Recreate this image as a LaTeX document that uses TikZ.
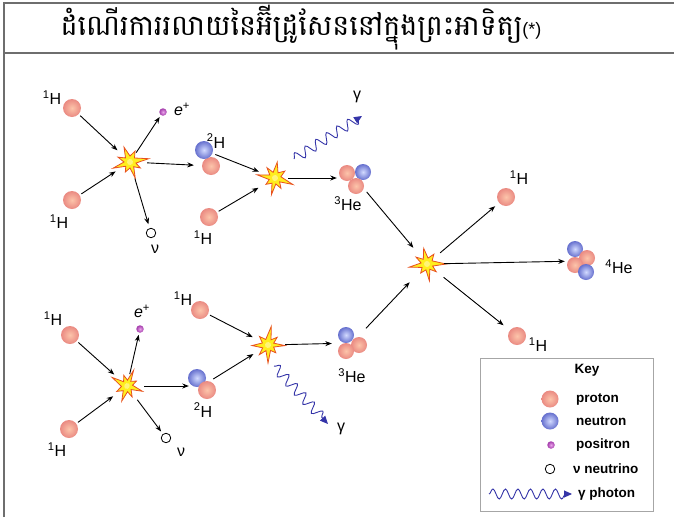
\documentclass[tikz,border=0pt]{standalone}
\usepackage{fontspec}
\setmainfont{Liberation Sans}
\newfontfamily\khmer[Script=Khmer]{Battambang}
\usetikzlibrary{arrows.meta,decorations.pathmorphing}

\definecolor{framegray}{HTML}{6E6E6E}
\definecolor{pin}{HTML}{FCC4AA}
\definecolor{pout}{HTML}{EA8A82}
\definecolor{nin}{HTML}{D2DAFF}
\definecolor{nout}{HTML}{6670CE}
\definecolor{posin}{HTML}{EAA4EA}
\definecolor{posout}{HTML}{A23AAA}
\definecolor{wavecol}{HTML}{3434A8}
\definecolor{flashfill}{HTML}{FFEE1E}
\definecolor{flashline}{HTML}{E8501E}

\tikzset{
  ball/.style={circle, inner sep=0pt, minimum size=#1},
  proton/.style={ball=#1, shade, inner color=pin, outer color=pout},
  proton/.default=18pt,
  neutron/.style={ball=#1, shade, inner color=nin, outer color=nout},
  neutron/.default=18pt,
  positron/.style={ball=7.5pt, shade, inner color=posin, outer color=posout},
  neutrino/.style={circle, inner sep=0pt, minimum size=9.5pt, draw=black, line width=0.8pt, fill=white},
  hub/.style={circle, inner sep=0pt, minimum size=34pt},
  grp/.style={circle, inner sep=0pt, minimum size=#1},
  lab/.style={font=\fontsize{16}{18}\selectfont, inner sep=0pt},
  keytext/.style={font=\bfseries\fontsize{13.5}{15}\selectfont, inner sep=0pt, anchor=west},
  flow/.style={line width=0.9pt, -{Stealth[length=6.5pt,width=5pt]}},
  photon/.style={draw=wavecol, line width=0.9pt, decorate,
    decoration={snake, segment length=12.5pt, amplitude=5pt, post length=3pt},
    -{Triangle[length=8pt,width=7pt]}},
  burst/.pic={
    \filldraw[fill=flashfill, draw=flashline, line width=0.8pt]
      (0:19) -- (20:6) -- (40:12) -- (62:6) -- (82:17) -- (100:6) -- (125:11)
      -- (145:6) -- (170:18) -- (190:6) -- (212:13) -- (232:6) -- (258:16)
      -- (280:6) -- (305:12) -- (328:6) -- cycle;
    \fill[flashfill!60!white] (0,0) circle (3);
  },
  framerule/.style={draw=framegray, line width=1.5pt}
}

\begin{document}
\begin{tikzpicture}[x=1pt, y=-1pt]
\useasboundingbox (0,0) rectangle (674,517);

% table frame and heading
\draw[framerule] (4,517) -- (4,3) -- (674,3);
\draw[framerule] (4,53) -- (674,53);
\node[font=\khmer\fontsize{28.5}{32}\selectfont, inner sep=0pt] (title) at (301,28)
  {ដំណើរការរលាយនៃអ៊ីដ្រូសែននៅក្នុងព្រះអាទិត្យ{\rmfamily\fontsize{18}{18}\selectfont(*)}};

% ---------- upper chain ----------
\node[proton] (p1) at (72,108) {};
\node[proton] (p2) at (72,200) {};
\node[hub] (f1) at (130,162) {};
\pic[rotate=10] at (f1) {burst};
\node[positron] (e1) at (163,112) {};
\node[neutrino] (nu1) at (151,233) {};
\node[proton] (d1p) at (211,166) {};
\node[neutron] (d1n) at (204,150) {};
\node[hub] (f2) at (275,178) {};
\pic[rotate=-20] at (f2) {burst};
\node[proton] (p3) at (209,217) {};
\node[grp=36pt] (h1) at (355,178) {};
\node[proton=16pt] at (347,173) {};
\node[neutron=16pt] at (363,172) {};
\node[proton=16pt] at (356,186) {};
\coordinate (g1a) at (294,159);
\coordinate (g1b) at (362,116);

\node[lab] (l1) at (52,98) {\textsuperscript{1}H};
\node[lab] (l2) at (59,222) {\textsuperscript{1}H};
\node[lab] (l3) at (182,109) {\textit{e}\textsuperscript{+}};
\node[lab] (l4) at (155,249) {ν};
\node[lab] (l5) at (216,141) {\textsuperscript{2}H};
\node[lab] (l6) at (203,238) {\textsuperscript{1}H};
\node[lab] (l7) at (357,97) {γ};
\node[lab] (l8) at (348,204) {\textsuperscript{3}He};

\draw[flow, shorten <=2pt] (p1) -- (f1);
\draw[flow, shorten <=2pt] (p2) -- (f1);
\draw[flow, shorten <=-6pt, shorten >=2pt] (f1) -- (e1);
\draw[flow, shorten >=4pt] (f1) -- (nu1);
\draw[flow, shorten >=8pt] (f1) -- (d1p);
\draw[flow, shorten <=3pt] (d1n) -- (f2);
\draw[flow, shorten <=2pt, shorten >=2pt] (p3) -- (f2);
\draw[flow, shorten <=-4pt] (f2) -- (h1);
\draw[photon] (g1a) -- (g1b);

% ---------- central fusion ----------
\node[hub] (f3) at (427,264) {};
\pic[rotate=0] at (f3) {burst};
\node[proton] (p4) at (506,197) {};
\node[proton] (p5) at (517,336) {};
\node[grp=30pt] (he4) at (580,261) {};
\node[neutron=16pt] at (575,249) {};
\node[proton=16pt] at (587,258) {};
\node[proton=16pt] at (575,265) {};
\node[neutron=16pt] at (586,272) {};

\node[lab] (l9) at (519,178) {\textsuperscript{1}H};
\node[lab] (l10) at (619,267) {\textsuperscript{4}He};
\node[lab] (l11) at (538,345) {\textsuperscript{1}H};

\draw[flow, shorten >=4pt] (h1) -- (f3);
\draw[flow, shorten >=5pt] (f3) -- (p4);
\draw[flow] (f3) -- (he4);
\draw[flow, shorten <=4pt, shorten >=8pt] (f3) -- (p5);

% ---------- lower chain ----------
\node[proton] (p6) at (70,335) {};
\node[proton] (p7) at (69,429) {};
\node[hub] (f4) at (127,386) {};
\pic[rotate=150, xscale=0.9] at (f4) {burst};
\node[positron] (e2) at (140,329) {};
\node[neutrino] (nu2) at (166,438) {};
\node[grp=26pt] (d2) at (202,386) {};
\node[neutron] (d2n) at (197,378) {};
\node[proton] (d2p) at (207,390) {};
\node[proton] (p8) at (200,310) {};
\node[hub] (f5) at (268,345) {};
\pic[rotate=80] at (f5) {burst};
\node[grp=40pt] (h2) at (352,343) {};
\node[neutron=16pt] at (346,335) {};
\node[proton=16pt] at (359,345) {};
\node[proton=16pt] at (346,351) {};
\coordinate (g2a) at (274,366);
\coordinate (g2b) at (328,424);

\node[lab] (l12) at (53,319) {\textsuperscript{1}H};
\node[lab] (l13) at (57,450) {\textsuperscript{1}H};
\node[lab] (l14) at (142,311) {\textit{e}\textsuperscript{+}};
\node[lab] (l15) at (181,452) {ν};
\node[lab] (l16) at (203,410) {\textsuperscript{2}H};
\node[lab] (l17) at (183,299) {\textsuperscript{1}H};
\node[lab] (l18) at (341,429) {γ};
\node[lab] (l19) at (352,376) {\textsuperscript{3}He};

\draw[flow, shorten <=2pt] (p6) -- (f4);
\draw[flow, shorten <=2pt] (p7) -- (f4);
\draw[flow, shorten <=-5pt, shorten >=2pt] (f4) -- (e2);
\draw[flow, shorten >=3pt] (f4) -- (nu2);
\draw[flow] (f4) -- (d2);
\draw[flow] (d2) -- (f5);
\draw[flow, shorten <=2pt] (p8) -- (f5);
\draw[flow] (f5) -- (h2);
\draw[flow, shorten >=8pt] (h2) -- (f3);
\draw[photon] (g2a) -- (g2b);

% ---------- key ----------
\node[draw=gray!70, line width=0.8pt, minimum width=173pt, minimum height=153pt,
      anchor=north west, inner sep=0pt] (key) at (480,358) {};
\node[font=\bfseries\fontsize{13.5}{15}\selectfont] (keyhead) at (587,370) {Key};
\node[proton=17pt] (kp) at (550,399) {};
\node[keytext] (kpt) at (576,399) {proton};
\node[neutron=17pt] (kn) at (550,421) {};
\node[keytext] (knt) at (576,421) {neutron};
\node[positron] (ke) at (551,445) {};
\node[keytext] (ket) at (576,445) {positron};
\node[neutrino] (kv) at (550,469) {};
\node[keytext] (kvt) at (573,469) {ν neutrino};
\coordinate (kwa) at (489,494);
\coordinate (kwb) at (572,494);
\draw[photon] (kwa) -- (kwb);
\node[keytext] (kwt) at (578,494) {γ photon};
\end{tikzpicture}
\end{document}
